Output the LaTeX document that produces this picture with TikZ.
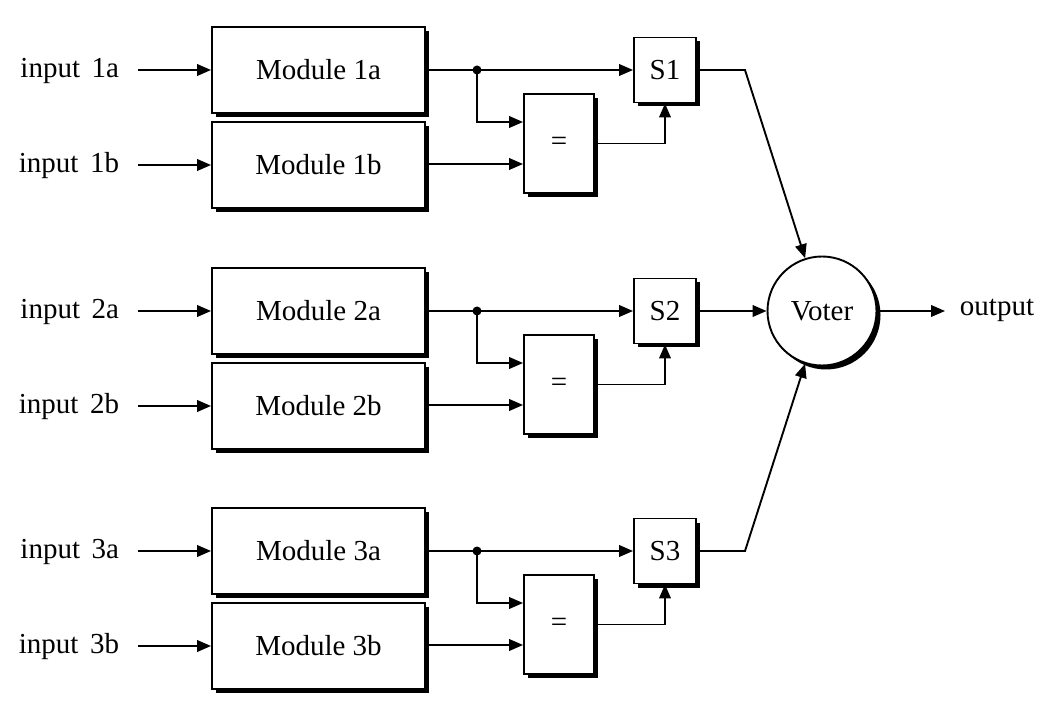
\documentclass[tikz,border=0pt]{standalone}
\usepackage{fontspec}
\setmainfont{Liberation Serif}
\usetikzlibrary{arrows.meta,shadows,calc}
\begin{document}
\begin{tikzpicture}[x=0.5pt,y=-0.5pt,
  font=\fontsize{14.5}{16}\selectfont,
  line width=0.95pt,
  shadowed/.style={draw=black, fill=white, line width=0.95pt,
     drop shadow={shadow xshift=2pt, shadow yshift=-2pt, fill=black, opacity=1}},
  module/.style={shadowed, minimum width=106.5pt, minimum height=43pt, inner sep=0pt},
  cmp/.style={shadowed, minimum width=35pt, minimum height=49.5pt, inner sep=0pt},
  sw/.style={shadowed, minimum width=31pt, minimum height=32.5pt, inner sep=0pt},
  voter/.style={shadowed, circle, minimum size=54.5pt, inner sep=0pt},
  inlbl/.style={anchor=mid east, inner xsep=9pt, inner ysep=0pt},
  outlbl/.style={anchor=mid west, inner xsep=7pt, inner ysep=0pt},
  arr/.style={-{Triangle[length=7pt,width=5.8pt]}},
  dot/.style={circle, fill=black, inner sep=0pt, minimum size=4.5pt}
]
\useasboundingbox (0,0) rectangle (1054,721);

\node[voter] (V) at (822,311) {Voter};
\node[outlbl] (out) at (945,311) {output};
\draw[arr] (V.east) -- (out.mid west);

\foreach \g/\a in {1/70,2/311,3/551}{
  \node[module] (Ma\g) at (318.5,\a) {Module \g a};
  \node[module] (Mb\g) at (318.5,\a+95) {Module \g b};
  \node[inlbl] (ia\g) at (138,\a+3) {input\hspace{0.4em}\g a};
  \node[inlbl] (ib\g) at (138,\a+98) {input\hspace{0.4em}\g b};
  \draw[arr] (ia\g.east |- Ma\g.west) -- (Ma\g.west);
  \draw[arr] (ib\g.east |- Mb\g.west) -- (Mb\g.west);
  \node[cmp] (E\g) at (559,\a+73.5) {=};
  \node[sw] (S\g) at (665,\a) {S\g};
  \node[dot] (J\g) at (477,\a) {};
  \draw (Ma\g.east) -- (J\g.center);
  \draw[arr] (J\g.center) -- (S\g.west);
  \coordinate (Ju\g) at (477,\a+52);
  \draw[arr] (J\g.center) -- (Ju\g) -- (Ju\g -| E\g.west);
  \draw[arr] (Mb\g.east |- 0,\a+94) -- (E\g.west |- 0,\a+94);
  \draw[arr] (E\g.east) -| (S\g.south);
}
\coordinate (c1) at (745,70);
\coordinate (c3) at (745,551);
\draw[arr] (S1.east) -- (c1) -- (V);
\draw[arr] (S2.east) -- (V.west);
\draw[arr] (S3.east) -- (c3) -- (V);
\end{tikzpicture}
\end{document}
